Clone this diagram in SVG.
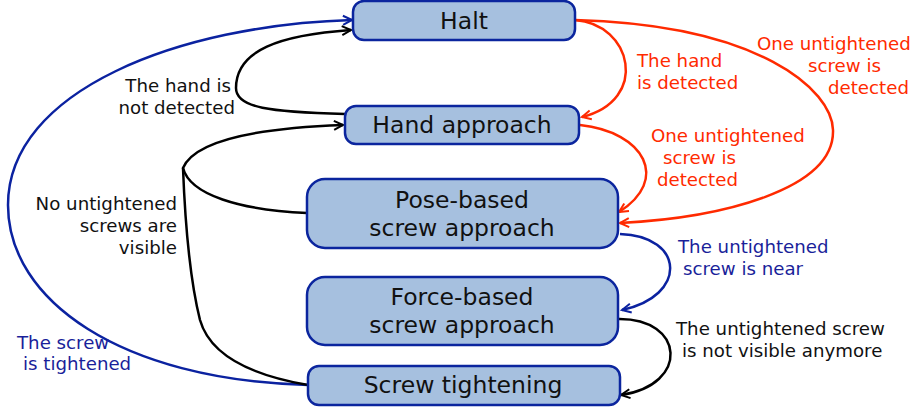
<svg xmlns="http://www.w3.org/2000/svg" width="915" height="411" viewBox="0 0 915 411">
<defs>
<style>
.box{fill:#A6C0DF;stroke:#0B259E;stroke-width:2.5}
.nt{font-family:"DejaVu Sans",sans-serif;font-size:23.5px;fill:#111;text-anchor:middle}
.lb{font-family:"DejaVu Sans",sans-serif;font-size:18.2px}
.c{fill:none;stroke-width:2.5}
.red{stroke:#FF2A00}
.blue{stroke:#0B22A0}
.blk{stroke:#000}
</style>
<marker id="ar" viewBox="0 0 12 12" refX="10" refY="6" markerWidth="12" markerHeight="12" markerUnits="userSpaceOnUse" orient="auto"><path d="M1,1.5 L10,6 L1,10.5" fill="none" stroke="#FF2A00" stroke-width="2"/></marker>
<marker id="ab" viewBox="0 0 12 12" refX="10" refY="6" markerWidth="12" markerHeight="12" markerUnits="userSpaceOnUse" orient="auto"><path d="M1,1.5 L10,6 L1,10.5" fill="none" stroke="#0B22A0" stroke-width="2"/></marker>
<marker id="ak" viewBox="0 0 12 12" refX="10" refY="6" markerWidth="12" markerHeight="12" markerUnits="userSpaceOnUse" orient="auto"><path d="M1,1.5 L10,6 L1,10.5" fill="none" stroke="#000" stroke-width="2"/></marker>
</defs>
<rect width="915" height="411" fill="#fff"/>
<g id="connectors">
<path class="c red" d="M575,20 C632,24 650,100 582,117" marker-end="url(#ar)"/>
<path class="c red" d="M575,20 C760,25 832,90 833,130 C835,190 720,218 620,223" marker-end="url(#ar)"/>
<path class="c red" d="M580,125 C645,132 670,180 619,212" marker-end="url(#ar)"/>
<path class="c blue" d="M620,234 C685,236 688,296 622,310" marker-end="url(#ab)"/>
<path class="c blk" d="M618,319 C685,318 690,385 621,395" marker-end="url(#ak)"/>
<path class="c blue" d="M308,385 C120,380 8,300 8,205 C8,90 180,25 352,20" marker-end="url(#ab)"/>
<path class="c blk" d="M345,114 C270,112 236,108 236,88 C236,50 280,35 351,30" marker-end="url(#ak)"/>
<path class="c blk" d="M307,213 C240,210 190,195 183,168 C195,140 260,128 343,125" marker-end="url(#ak)"/>
<path class="c blk" d="M308,385 C250,375 210,355 200,320 C190,280 185,220 183,168"/>
</g>
<g id="halt"><rect class="box" x="353" y="1" width="222" height="39" rx="11"/><text class="nt" x="464" y="29">Halt</text></g>
<g id="hand-approach"><rect class="box" x="345" y="106" width="234" height="38" rx="11"/><text class="nt" x="462" y="133">Hand approach</text></g>
<g id="pose-based"><rect class="box" x="307" y="179" width="311" height="69" rx="18"/><text class="nt" x="462" y="208">Pose-based</text><text class="nt" x="462" y="236">screw approach</text></g>
<g id="force-based"><rect class="box" x="307" y="277" width="311" height="68" rx="18"/><text class="nt" x="462" y="305">Force-based</text><text class="nt" x="462" y="333">screw approach</text></g>
<g id="screw-tightening"><rect class="box" x="308" y="366" width="312" height="39" rx="11"/><text class="nt" x="463" y="393">Screw tightening</text></g>
<g id="labels" class="lb">
<text fill="#FF2A00" x="637" y="67">The hand</text>
<text fill="#FF2A00" x="637" y="89">is detected</text>
<text fill="#FF2A00" x="757" y="50">One untightened</text>
<text fill="#FF2A00" x="808" y="72">screw is</text>
<text fill="#FF2A00" x="828" y="94">detected</text>
<text fill="#FF2A00" x="651" y="142">One untightened</text>
<text fill="#FF2A00" x="663" y="164">screw is</text>
<text fill="#FF2A00" x="657" y="186">detected</text>
<text fill="#1A1F9A" x="678" y="253">The untightened</text>
<text fill="#1A1F9A" x="683" y="275">screw is near</text>
<text fill="#111" x="676" y="335">The untightened screw</text>
<text fill="#111" x="682" y="357">is not visible anymore</text>
<text fill="#111" x="231" y="92" text-anchor="end">The hand is</text>
<text fill="#111" x="235" y="114" text-anchor="end">not detected</text>
<text fill="#111" x="177" y="210" text-anchor="end">No untightened</text>
<text fill="#111" x="177" y="232" text-anchor="end">screws are</text>
<text fill="#111" x="177" y="254" text-anchor="end">visible</text>
<text fill="#1A1F9A" x="17" y="349">The screw</text>
<text fill="#1A1F9A" x="23" y="370">is tightened</text>
</g>
</svg>
